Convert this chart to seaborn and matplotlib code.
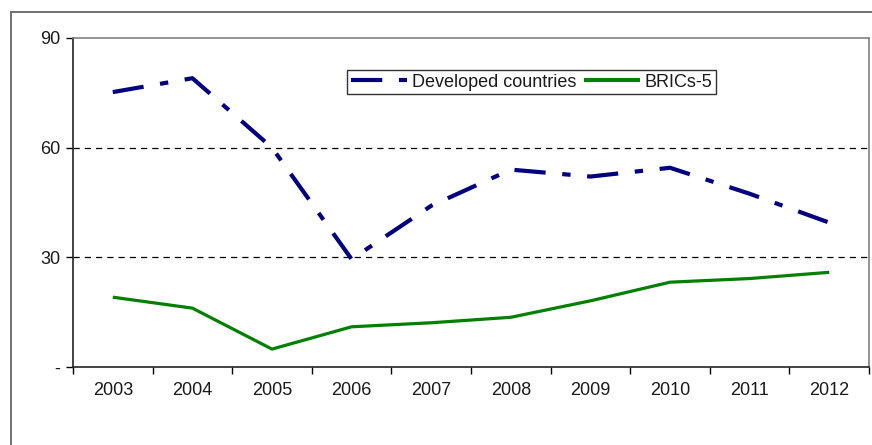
import matplotlib
matplotlib.use("Agg")
import matplotlib.pyplot as plt
import matplotlib.lines as mlines
import seaborn as sns
import pandas as pd
import numpy as np

years = ["2003", "2004", "2005", "2006", "2007", "2008", "2009", "2010", "2011", "2012"]
developed = [75.2, 79.0, 60.0, 29.5, 44.1, 54.0, 52.1, 54.5, 47.4, 39.5]
brics = [19.1, 16.1, 4.9, 11.0, 12.1, 13.6, 18.1, 23.2, 24.2, 25.9]
series_names = ["Developed countries", "BRICs-5"]
ytick_vals = [0, 30, 60, 90]
ytick_labels = ["-", "30", "60", "90"]

sns.set_theme(style="white")
plt.rcParams["font.family"] = ["Liberation Sans", "DejaVu Sans"]

df = pd.DataFrame({
    "pos": list(range(len(years))) * 2,
    "value": developed + brics,
    "series": [series_names[0]] * len(years) + [series_names[1]] * len(years),
})

W, H = 872, 445
fig = plt.figure(figsize=(W / 100, H / 100), dpi=100)
fig.patch.set_facecolor("white")
ax = fig.add_axes([73 / W, 1 - 367 / H, (869 - 73) / W, (367 - 38) / H])

palette = {series_names[0]: "#000080", series_names[1]: "#008000"}
sns.lineplot(data=df, x="pos", y="value", hue="series", style="series",
             palette=palette, dashes={series_names[0]: (7.5, 4, 2, 4), series_names[1]: ""},
             ax=ax, legend=False)
for line, lw in zip(ax.lines, [3.0, 2.3]):
    line.set_linewidth(lw)
    line.set_dash_capstyle("butt")
    line.set_solid_capstyle("butt")

ax.set_xlim(-0.5, len(years) - 0.5)
ax.set_ylim(0, 90)

# gridlines
for v in [30, 60]:
    ax.axhline(v, color="black", lw=0.9, ls=(0, (5, 4)), zorder=0)

# ticks
ax.set_xticks(np.arange(-0.5, len(years), 1.0))
ax.set_xticklabels([])
ax.set_xticks(range(len(years)), minor=True)
ax.set_xticklabels(years, minor=True)
ax.tick_params(axis="x", which="major", direction="out", length=5, width=1, color="black", bottom=True)
ax.tick_params(axis="x", which="minor", length=0, pad=11, labelsize=13, colors="#1a1a1a")
ax.set_yticks(ytick_vals)
ax.set_yticklabels(ytick_labels)
ax.tick_params(axis="y", direction="out", length=5, width=1, color="black", left=True, pad=4,
               labelsize=13, labelcolor="#1a1a1a")
ax.set_xlabel("")
ax.set_ylabel("")

for side in ["left", "bottom"]:
    ax.spines[side].set_color("#222222")
    ax.spines[side].set_linewidth(1.2)
for side in ["top", "right"]:
    ax.spines[side].set_color("#808080")
    ax.spines[side].set_linewidth(1.2)

# legend
handles = [
    mlines.Line2D([], [], color="#000080", lw=3.0, dashes=(7.5, 4, 2, 4), dash_capstyle="butt"),
    mlines.Line2D([], [], color="#008000", lw=3.0, solid_capstyle="butt"),
]
leg = fig.legend(handles, series_names, loc="upper left", bbox_to_anchor=(347 / W, 1 - 70 / H),
                 ncol=2, fontsize=13, frameon=True, fancybox=False, handlelength=3.1,
                 handletextpad=0.3, columnspacing=0.4, borderpad=0.2, borderaxespad=0)
leg.get_frame().set_edgecolor("black")
leg.get_frame().set_linewidth(1.0)
for t in leg.get_texts():
    t.set_color("#1a1a1a")

# outer frame of the original chart
fig.add_artist(mlines.Line2D([11 / W, 11 / W], [0, 1 - 12 / H], transform=fig.transFigure,
                             color="#666666", lw=1.3))
fig.add_artist(mlines.Line2D([11 / W, 1], [1 - 12 / H, 1 - 12 / H], transform=fig.transFigure,
                             color="#666666", lw=1.3))

fig.savefig("out.png", dpi=100, facecolor="white")
